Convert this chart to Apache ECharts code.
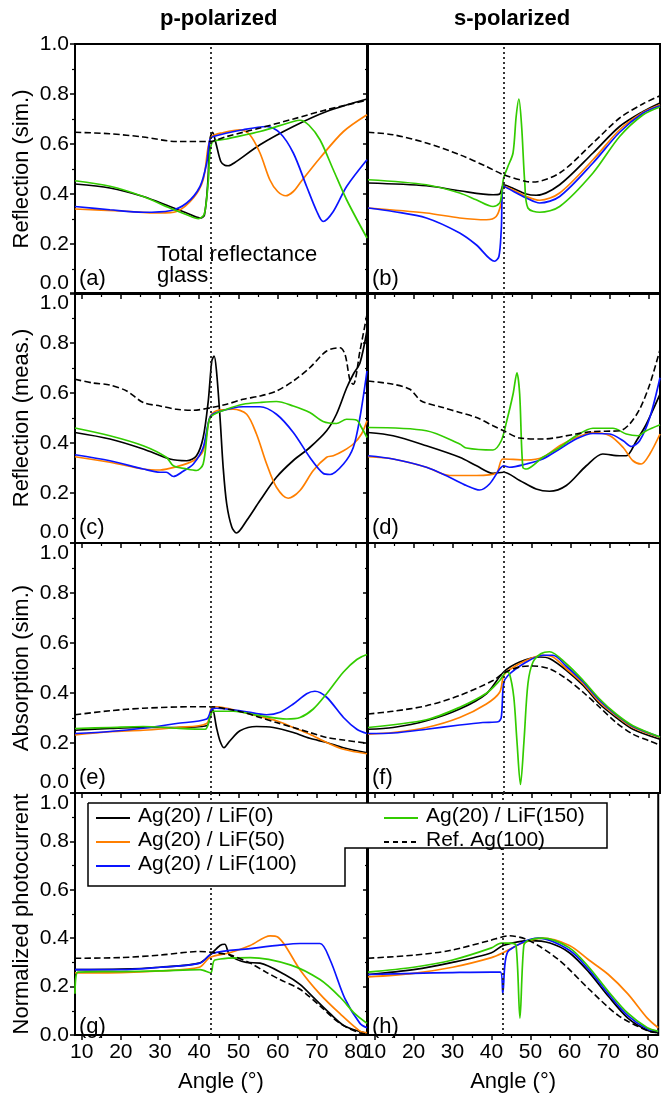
<!DOCTYPE html>
<html><head><meta charset="utf-8">
<script src="https://cdn.jsdelivr.net/npm/echarts@6/dist/echarts.min.js"></script>
<style>html,body{margin:0;padding:0;background:#fff}#c{width:662px;height:1094px}</style>
</head><body><div id="c"></div>
<script>
// ---------- labels ----------
const seriesNames = ['Ag(20) / LiF(0)', 'Ag(20) / LiF(50)', 'Ag(20) / LiF(100)', 'Ag(20) / LiF(150)', 'Ref. Ag(100)'];
const rowNames = ['Reflection (sim.)', 'Reflection (meas.)', 'Absorption (sim.)', 'Normalized photocurrent'];
const colTitles = ['p-polarized', 's-polarized'];
const panelLetters = ['(a)', '(b)', '(c)', '(d)', '(e)', '(f)', '(g)', '(h)'];
const xTickValues = [10, 20, 30, 40, 50, 60, 70, 80];
const xMinorValues = [15, 25, 35, 45, 55, 65, 75];
const criticalAngle = 43;

// ---------- (a) p-pol reflection, simulated ----------
const a_lif0 = [[8.3,0.44],[17.2,0.424],[25.7,0.39],[32.5,0.35],[36.8,0.324],[40.2,0.304],[41.3,0.315],[42.2,0.45],[42.7,0.617],[43.4,0.647],[44.3,0.6],[45.5,0.53],[46.5,0.515],[47.4,0.513],[49,0.525],[55.5,0.597],[64,0.67],[72.5,0.73],[82.8,0.78]];
const a_lif50 = [[8.3,0.34],[20,0.332],[30,0.324],[34.2,0.33],[38.5,0.384],[41,0.457],[42.3,0.59],[43.2,0.63],[46,0.645],[50.4,0.657],[52.9,0.637],[55.5,0.564],[58,0.457],[60,0.41],[62.1,0.393],[64,0.41],[65.7,0.444],[70.8,0.544],[76.8,0.65],[82.8,0.717]];
const a_lif100 = [[8.3,0.35],[17.2,0.337],[25.7,0.327],[32.5,0.333],[36.8,0.364],[40.2,0.43],[41.9,0.524],[42.7,0.617],[43.6,0.63],[51.2,0.657],[57.2,0.67],[60.6,0.644],[64,0.564],[67.4,0.43],[70,0.33],[71.6,0.29],[74.2,0.33],[77.6,0.43],[82.8,0.537]];
const a_lif150 = [[8.3,0.453],[17.2,0.431],[25.7,0.39],[32.5,0.344],[36.8,0.317],[39.8,0.301],[41.3,0.32],[42.3,0.45],[43.2,0.604],[47,0.62],[55.5,0.65],[64,0.69],[65.7,0.695],[68,0.675],[70.8,0.617],[74.2,0.497],[77.6,0.377],[82.8,0.224]];
const a_ref = [[8.3,0.647],[17.2,0.641],[25.7,0.628],[34.2,0.61],[42.7,0.61],[47,0.63],[55.5,0.664],[64,0.7],[72.5,0.737],[82.8,0.775]];

// ---------- (b) s-pol reflection, simulated ----------
const b_lif0 = [[8.3,0.444],[23.2,0.433],[31.7,0.413],[40.2,0.397],[41.9,0.4],[42.9,0.437],[45,0.425],[48.7,0.4],[51.2,0.395],[57.2,0.437],[65.7,0.564],[72.5,0.67],[78.5,0.73],[82.8,0.764]];
const b_lif50 = [[8.3,0.344],[23.2,0.324],[31.7,0.304],[38.5,0.297],[41,0.31],[42.3,0.364],[43,0.43],[48.7,0.39],[52.1,0.375],[57.2,0.404],[65.7,0.537],[72.5,0.657],[78.5,0.727],[82.8,0.757]];
const b_lif100 = [[8.3,0.344],[14.7,0.33],[23.2,0.304],[31.7,0.244],[35.9,0.197],[40.6,0.131],[41.7,0.15],[42.3,0.257],[42.9,0.43],[48.7,0.384],[52.1,0.364],[57.2,0.39],[65.7,0.524],[72.5,0.647],[78.5,0.724],[82.8,0.753]];
const b_lif150 = [[8.3,0.457],[23.2,0.437],[31.7,0.404],[35.9,0.377],[40.2,0.35],[41.9,0.364],[42.3,0.39],[42.9,0.464],[44,0.51],[45.3,0.564],[46.1,0.71],[46.8,0.78],[47.5,0.67],[48.3,0.444],[49.1,0.344],[52.1,0.327],[57.2,0.35],[65.7,0.484],[72.5,0.63],[78.5,0.717],[82.8,0.748]];
const b_ref = [[8.3,0.647],[14.7,0.637],[23.2,0.604],[31.7,0.557],[38.5,0.51],[42.9,0.477],[48.7,0.45],[50.4,0.448],[57.2,0.484],[65.7,0.604],[72.5,0.704],[78.5,0.761],[82.8,0.793]];

// ---------- (c) p-pol reflection, measured ----------
const c_lif0 = [[8.3,0.442],[17.2,0.416],[25.7,0.376],[32.5,0.336],[36.8,0.329],[39.3,0.349],[41,0.422],[42.3,0.568],[43.2,0.728],[43.8,0.748],[44.4,0.688],[45.3,0.502],[46.1,0.303],[47,0.157],[48.3,0.064],[49.5,0.04],[52.1,0.09],[55.5,0.17],[59.7,0.263],[64,0.33],[68.2,0.382],[72.5,0.449],[75,0.515],[77.6,0.62],[79.3,0.675],[81,0.72],[82.8,0.85]];
const c_lif50 = [[8.3,0.345],[17.2,0.323],[25.7,0.296],[30,0.292],[34.2,0.305],[38.5,0.329],[41,0.369],[42.7,0.502],[44.4,0.529],[48.7,0.535],[52.1,0.515],[54.6,0.436],[57.2,0.316],[59.7,0.223],[62.7,0.179],[65.7,0.21],[69.1,0.29],[72.5,0.343],[74.2,0.349],[76.8,0.369],[79.3,0.396],[81.4,0.436],[82.8,0.489]];
const c_lif100 = [[8.3,0.353],[17.2,0.329],[25.7,0.296],[30,0.283],[31.6,0.283],[33.4,0.266],[35.9,0.287],[38.5,0.316],[41,0.382],[42.7,0.502],[44.4,0.522],[51.2,0.545],[55.5,0.545],[59.7,0.515],[64,0.442],[68.2,0.343],[71.6,0.279],[73.4,0.274],[76.8,0.316],[79.3,0.382],[81,0.502],[82.8,0.688]];
const c_lif150 = [[8.3,0.46],[17.2,0.429],[25.7,0.389],[31.6,0.343],[33.4,0.309],[36.8,0.296],[39.3,0.29],[41,0.316],[42.3,0.475],[43.2,0.509],[47,0.535],[51.2,0.555],[55.5,0.562],[59.7,0.566],[64,0.548],[68.2,0.522],[71.6,0.486],[75,0.478],[77.6,0.495],[80.2,0.491],[81.4,0.462],[82.8,0.422]];
const c_ref = [[8.3,0.655],[12.9,0.64],[17.2,0.632],[21.5,0.608],[25.7,0.562],[30,0.548],[34.2,0.535],[38.5,0.531],[43.2,0.542],[47,0.555],[51.2,0.575],[55.5,0.588],[59.7,0.608],[64,0.648],[68.2,0.701],[72.5,0.768],[75.9,0.781],[77.2,0.754],[78.5,0.648],[79.3,0.635],[81,0.768],[82.8,0.914]];

// ---------- (d) s-pol reflection, measured ----------
const d_lif0 = [[8.3,0.442],[14.7,0.429],[23.2,0.389],[31.7,0.343],[36,0.309],[40.2,0.279],[42.9,0.283],[47,0.25],[51.2,0.216],[54.6,0.207],[58.9,0.23],[64,0.309],[68.2,0.356],[72.5,0.349],[74.2,0.349],[76.8,0.409],[79.3,0.475],[82.8,0.595]];
const d_lif50 = [[8.3,0.345],[14.7,0.336],[23.2,0.303],[29.1,0.27],[36,0.27],[41,0.279],[42.7,0.336],[48.7,0.332],[52.9,0.343],[57.2,0.389],[61.4,0.422],[65.7,0.442],[70,0.429],[73.4,0.382],[75.9,0.329],[78,0.316],[80.2,0.356],[82.8,0.436]];
const d_lif100 = [[8.3,0.349],[14.7,0.336],[23.2,0.303],[29.1,0.263],[33.4,0.23],[36.8,0.212],[39.3,0.236],[41.9,0.296],[42.9,0.309],[44.4,0.303],[48.7,0.316],[52.9,0.336],[57.2,0.376],[61.4,0.416],[65.7,0.438],[70,0.436],[73.4,0.409],[75.5,0.386],[77.6,0.409],[80.2,0.502],[82.8,0.661]];
const d_lif150 = [[8.3,0.462],[23.2,0.449],[31.7,0.396],[33.4,0.38],[40.2,0.372],[42.3,0.409],[43.6,0.482],[45.3,0.595],[46.3,0.681],[47,0.595],[47.8,0.303],[48.7,0.296],[52.9,0.343],[57.2,0.382],[61.4,0.429],[65.7,0.459],[70.8,0.459],[74.2,0.436],[77.2,0.429],[79.3,0.449],[82.8,0.473]];
const d_ref = [[8.3,0.648],[14.7,0.635],[19,0.615],[21.9,0.568],[27.4,0.542],[31.7,0.522],[36,0.502],[40.2,0.469],[42.9,0.449],[47,0.42],[52.9,0.416],[61.4,0.436],[65.7,0.446],[72.5,0.449],[75,0.475],[77.6,0.535],[80.2,0.635],[82.8,0.774]];

// ---------- (e) p-pol absorption, simulated ----------
const e_lif0 = [[8.3,0.251],[17.2,0.258],[25.7,0.262],[34.2,0.262],[41.9,0.269],[42.7,0.302],[43.4,0.336],[44.4,0.262],[45.3,0.208],[46.3,0.181],[47.8,0.208],[50.4,0.249],[54.6,0.266],[58.9,0.262],[64,0.242],[68.2,0.219],[72.5,0.202],[76.8,0.181],[82.8,0.161]];
const e_lif50 = [[8.3,0.232],[17.2,0.245],[25.7,0.251],[34.2,0.262],[41.9,0.278],[43.2,0.343],[44.4,0.345],[51.2,0.323],[55.5,0.305],[59.7,0.289],[64,0.262],[68.2,0.235],[72.5,0.202],[76.8,0.175],[82.8,0.157]];
const e_lif100 = [[8.3,0.238],[17.2,0.246],[25.7,0.259],[34.2,0.278],[41.9,0.296],[43.2,0.336],[44.4,0.339],[51.2,0.327],[57.2,0.313],[60.6,0.323],[64,0.356],[67.4,0.397],[69.5,0.407],[72.5,0.383],[76.8,0.302],[80.2,0.255],[82.8,0.238]];
const e_lif150 = [[8.3,0.258],[17.2,0.262],[25.7,0.266],[34.2,0.259],[41.5,0.255],[42.7,0.302],[43.6,0.327],[48.7,0.327],[55.5,0.309],[62.3,0.296],[65.7,0.302],[69.1,0.336],[72.5,0.397],[76.8,0.484],[80.2,0.534],[82.8,0.554]];
const e_ref = [[8.3,0.313],[17.2,0.329],[25.7,0.339],[38.5,0.345],[42.9,0.345],[47,0.336],[51.2,0.323],[55.5,0.302],[59.7,0.282],[64,0.262],[68.2,0.242],[72.5,0.222],[76.8,0.212],[82.8,0.199]];

// ---------- (f) s-pol absorption, simulated ----------
const f_lif0 = [[8.3,0.255],[14.7,0.262],[23.2,0.289],[31.7,0.336],[38.5,0.397],[42.9,0.484],[47,0.524],[52.1,0.544],[54.6,0.538],[58.9,0.491],[63.2,0.43],[67.4,0.356],[71.6,0.302],[75.9,0.255],[82.8,0.215]];
const f_lif50 = [[8.3,0.235],[14.7,0.242],[23.2,0.262],[31.7,0.302],[38.5,0.356],[41.9,0.403],[42.9,0.47],[44.4,0.493],[48.7,0.531],[52.9,0.551],[55.5,0.544],[58.9,0.497],[63.2,0.437],[67.4,0.363],[71.6,0.309],[75.9,0.262],[82.8,0.222]];
const f_lif100 = [[8.3,0.238],[14.7,0.24],[23.2,0.255],[31.7,0.272],[37.6,0.282],[41.5,0.285],[42.3,0.302],[42.9,0.437],[44,0.47],[48.7,0.524],[52.9,0.551],[55.5,0.551],[58.9,0.507],[63.2,0.444],[67.4,0.37],[71.6,0.313],[75.9,0.266],[82.8,0.224]];
const f_lif150 = [[8.3,0.262],[23.2,0.293],[31.7,0.343],[38.5,0.399],[41.9,0.45],[43.6,0.484],[44.4,0.477],[45.5,0.383],[46.3,0.208],[47.2,0.034],[48.1,0.208],[49.1,0.437],[50.4,0.524],[52.5,0.558],[54.6,0.565],[58.9,0.517],[63.2,0.45],[67.4,0.376],[71.6,0.316],[75.9,0.269],[82.8,0.224]];
const f_ref = [[8.3,0.316],[14.7,0.327],[23.2,0.349],[31.7,0.39],[40.2,0.45],[42.9,0.48],[47,0.504],[50.4,0.508],[54.6,0.497],[58.9,0.457],[63.2,0.403],[67.4,0.343],[71.6,0.282],[75.9,0.235],[80.2,0.208],[82.8,0.192]];

// ---------- (g) p-pol photocurrent ----------
const g_lif0 = [[8.3,0.27],[20,0.272],[30,0.28],[40,0.297],[42.7,0.33],[45.3,0.37],[46.5,0.375],[47.8,0.33],[52,0.3],[55.5,0.297],[61.9,0.249],[65.7,0.209],[69.5,0.149],[73.4,0.088],[77.2,0.036],[82.5,0.008]];
const g_lif50 = [[8.3,0.257],[20,0.258],[30,0.265],[40,0.28],[42.7,0.32],[47.8,0.34],[53,0.37],[58.1,0.41],[60,0.405],[61.9,0.37],[65.7,0.27],[70.8,0.169],[75.9,0.088],[81,0.016],[82.8,0.01]];
const g_lif100 = [[8.3,0.27],[20,0.27],[30,0.28],[40.2,0.297],[43.3,0.337],[53,0.357],[60,0.37],[65.7,0.378],[70.8,0.378],[73.4,0.31],[77.2,0.149],[81,0.048],[82.8,0.03]];
const g_lif150 = [[8.3,0.17],[9,0.26],[20,0.262],[30,0.265],[40.2,0.27],[42.9,0.257],[44,0.31],[53,0.32],[63.2,0.29],[70.8,0.229],[75.9,0.157],[79.7,0.088],[82.8,0.048]];
const g_ref = [[8.3,0.317],[20,0.32],[30,0.33],[40,0.345],[44,0.34],[48,0.33],[53,0.297],[57,0.26],[60.6,0.229],[65.7,0.189],[70.8,0.12],[75.9,0.048],[81,0.008],[82.8,0.005]];

// ---------- (h) s-pol photocurrent ----------
const h_lif0 = [[8.3,0.25],[20,0.27],[30,0.3],[40,0.34],[43,0.37],[50,0.39],[55,0.38],[60,0.34],[65,0.26],[70,0.16],[75,0.07],[80,0.02],[82.8,0.01]];
const h_lif50 = [[8.3,0.24],[20,0.255],[30,0.28],[40,0.32],[43,0.34],[48,0.38],[53,0.4],[60,0.37],[65,0.31],[70,0.25],[75,0.17],[80,0.07],[82.8,0.03]];
const h_lif100 = [[8.3,0.25],[20,0.255],[30,0.258],[40,0.26],[42.3,0.26],[42.9,0.17],[43.5,0.3],[44.5,0.35],[52,0.4],[60,0.35],[65,0.27],[70,0.17],[75,0.08],[80,0.025],[82.8,0.015]];
const h_lif150 = [[8.3,0.26],[20,0.28],[30,0.31],[40,0.36],[42.5,0.38],[45,0.38],[46.3,0.37],[47.3,0.07],[48.3,0.37],[49.5,0.39],[53,0.4],[60,0.36],[65,0.28],[70,0.18],[75,0.09],[80,0.03],[82.8,0.015]];
const h_ref = [[8.3,0.317],[20,0.33],[29.3,0.349],[39.5,0.39],[44.6,0.41],[49.7,0.39],[57.3,0.31],[65,0.19],[72.6,0.08],[80.3,0.016],[82.8,0.01]];

// ---------- assembly ----------
const panelData = [
  [a_lif0, a_lif50, a_lif100, a_lif150, a_ref],
  [b_lif0, b_lif50, b_lif100, b_lif150, b_ref],
  [c_lif0, c_lif50, c_lif100, c_lif150, c_ref],
  [d_lif0, d_lif50, d_lif100, d_lif150, d_ref],
  [e_lif0, e_lif50, e_lif100, e_lif150, e_ref],
  [f_lif0, f_lif50, f_lif100, f_lif150, f_ref],
  [g_lif0, g_lif50, g_lif100, g_lif150, g_ref],
  [h_lif0, h_lif50, h_lif100, h_lif150, h_ref]
];
const lineColors = ['#000000', '#ff7f00', '#0a14ff', '#33cc00', '#000000'];
const lineTypes = ['solid', 'solid', 'solid', 'solid', 'dashed'];

const FONT = 'Liberation Sans, Arial, sans-serif';
const colLeft = [75, 368], colWidth = 292;
const rowTop = [44, 293, 543, 793], rowHeight = [250, 250, 250, 249];
const X_MIN = 8.3, X_MAX = 82.8;

const grids = [], xAxes = [], yAxes = [], series = [], graphics = [];
for (let i = 0; i < 8; i++) {
  const row = Math.floor(i / 2), col = i % 2;
  grids.push({left: colLeft[col], top: rowTop[row], width: colWidth, height: rowHeight[row],
    show: true, borderColor: '#000', borderWidth: 2, backgroundColor: 'transparent'});
  xAxes.push({gridIndex: i, type: 'value', min: X_MIN, max: X_MAX, position: 'bottom',
    axisLine: {show: false}, splitLine: {show: false},
    axisTick: {show: true, customValues: xTickValues, length: 5, lineStyle: {color: '#000', width: 1.5}},
    axisLabel: {show: row === 3, customValues: xTickValues, fontSize: 21, color: '#000', margin: 7, fontFamily: FONT},
    name: row === 3 ? 'Angle (°)' : '', nameLocation: 'middle', nameGap: 36,
    nameTextStyle: {fontSize: 22, color: '#000', fontFamily: FONT}});
  xAxes.push({gridIndex: i, type: 'value', min: X_MIN, max: X_MAX, position: 'bottom',
    axisLine: {show: false}, splitLine: {show: false},
    axisTick: {show: true, customValues: xMinorValues, length: 3, lineStyle: {color: '#000', width: 1.2}},
    axisLabel: {show: false}});
  yAxes.push({gridIndex: i, type: 'value', min: 0, max: 1, interval: 0.2,
    axisLine: {show: false}, splitLine: {show: false},
    axisTick: {show: true, length: 5, lineStyle: {color: '#000', width: 1.5}},
    minorTick: {show: true, splitNumber: 2, length: 3, lineStyle: {color: '#000', width: 1.2}},
    minorSplitLine: {show: false},
    axisLabel: {show: col === 0, formatter: v => v.toFixed(1), fontSize: 21, color: '#000', margin: 6, fontFamily: FONT,
      verticalAlignMinLabel: row < 3 ? 'bottom' : 'middle', verticalAlignMaxLabel: row > 0 ? 'top' : 'middle'},
    name: col === 0 ? rowNames[row] : '', nameLocation: 'middle', nameGap: 42,
    nameTextStyle: {fontSize: 22, color: '#000', fontFamily: FONT}});
  for (let k = 0; k < 5; k++) {
    const s = {type: 'line', name: seriesNames[k], xAxisIndex: 2 * i, yAxisIndex: i,
      data: panelData[i][k], symbol: 'none', smooth: 0.3, animation: false,
      lineStyle: {color: lineColors[k], width: k === 4 ? 1.6 : 1.7, type: lineTypes[k]},
      itemStyle: {color: lineColors[k]}, z: k === 4 ? 3 : 2};
    if (k === 0) {
      s.markLine = {silent: true, symbol: 'none', animation: false, label: {show: false},
        lineStyle: {color: '#222', type: [2, 3], width: 1.8},
        data: [{xAxis: criticalAngle}]};
    }
    series.push(s);
  }
  graphics.push({type: 'text', left: colLeft[col] + 4, top: rowTop[row] + rowHeight[row] - 26,
    style: {text: panelLetters[i], font: '22px ' + FONT, fill: '#000'}});
}
graphics.push({type: 'text', left: 160, top: 8, style: {text: colTitles[0], font: 'bold 22px ' + FONT, fill: '#000'}});
graphics.push({type: 'text', left: 454, top: 8, style: {text: colTitles[1], font: 'bold 22px ' + FONT, fill: '#000'}});
graphics.push({type: 'text', left: 157, top: 244, style: {text: 'Total reflectance', font: '22px ' + FONT, fill: '#000'}});
graphics.push({type: 'text', left: 157, top: 265, style: {text: 'glass', font: '22px ' + FONT, fill: '#000'}});

// legend (L-shaped frame with line samples), drawn as decoration
graphics.push({type: 'polyline', z: 50,
  shape: {points: [[88, 803], [607, 803], [607, 848], [345, 848], [345, 886], [88, 886], [88, 803]]},
  style: {stroke: '#000', lineWidth: 1.5, fill: '#fff'}});
const legendSlots = [[96, 818], [96, 842], [96, 866], [384, 818], [384, 842]];
for (let k = 0; k < 5; k++) {
  const [lx, ly] = legendSlots[k];
  graphics.push({type: 'line', z: 51, shape: {x1: lx, y1: ly, x2: lx + 34, y2: ly},
    style: {stroke: lineColors[k], lineWidth: 1.8, lineDash: k === 4 ? [5, 4] : null}});
  graphics.push({type: 'text', z: 51, left: lx + 42, top: ly - 12,
    style: {text: seriesNames[k], font: '21px ' + FONT, fill: '#000'}});
}

const chart = echarts.init(document.getElementById('c'), null, {renderer: 'canvas'});
chart.setOption({
  animation: false,
  textStyle: {fontFamily: FONT},
  grid: grids, xAxis: xAxes, yAxis: yAxes, series: series,
  graphic: graphics
});
</script></body></html>
